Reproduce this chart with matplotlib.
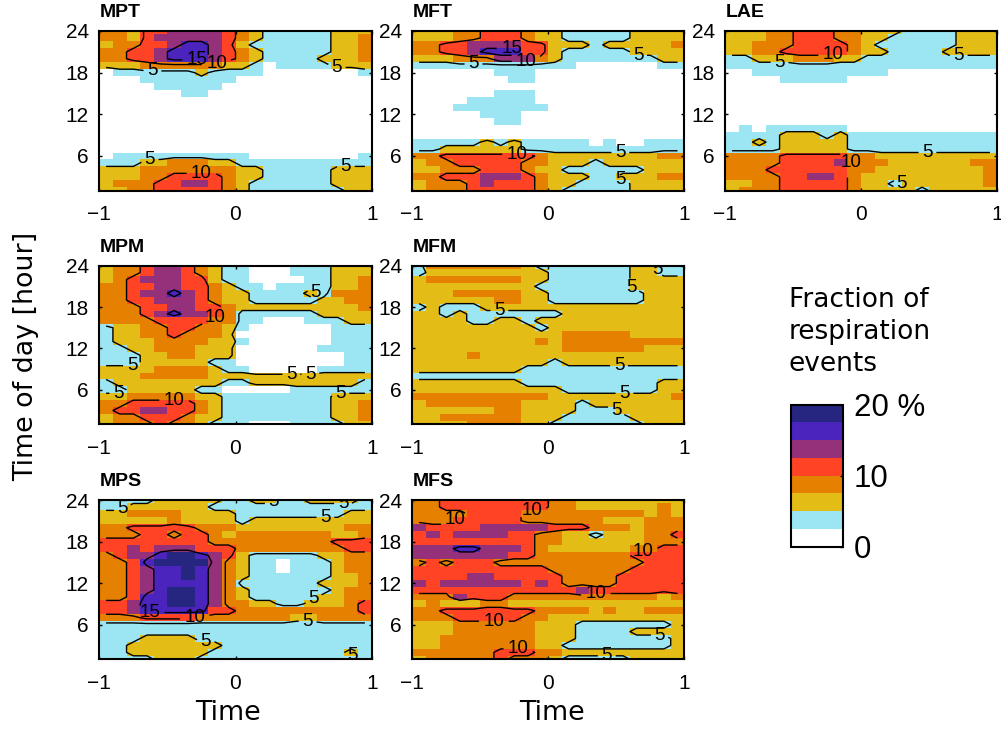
#!/usr/bin/env python3
# -*- coding: utf-8 -*-
import numpy as np
import matplotlib
matplotlib.use("Agg")
import matplotlib.pyplot as plt
from matplotlib.colors import ListedColormap, BoundaryNorm
from matplotlib.cm import ScalarMappable

# each string is one hour (24 at the top, 1 at the bottom), each digit one 0.1 wide time bin
# digit = colour class, 0 = 0-2.5 %, 1 = 2.5-5 % ... 7 = 17.5-20 %
EMPTY = "00000000000000000000"

mpt = ["33244555543211111222", "33245555543211111223", "23344566542111111223", "33445666543211111223",
       "33445666543211112223", "22233333322101111222", "01111112111100000001", "00011111110000000000",
       "00001111100000000000", "00000011000000000000", EMPTY, EMPTY, EMPTY, EMPTY, EMPTY, EMPTY, EMPTY, EMPTY,
       "01111111111000000001", "11122333221111111111", "22233333332211111222", "22233444432211111222",
       "23334455432111111222", "22334444432111111122"]

mft = ["22233444322111112222", "22233444322111112222", "33445555442221222223", "33445666442111112222",
       "22233355532111111122", "11111111111100000011", "00000011100000000000", "00000001100000000000",
       EMPTY, "00000011100000000000", "00001111100000000000", "00011111110000000000",
       "00000111000000000000", "00000011000000000000", EMPTY, EMPTY,
       "11111212111110100111", "11222222111111111111", "33444444432222222233", "23344444332221222222",
       "22333444322111111222", "33444555432221122233", "23334544432211112222", "23334444432111112222"]

lae = ["22233444332221111222", "22233444332211111222", "22333444432111111222", "22334444432211112222",
       "11222333221111111111", "11111111111111111111", "00111111111100000000", "00001111100000000000",
       EMPTY, EMPTY, EMPTY, EMPTY, EMPTY, EMPTY,
       "01011111100000000000", "11112221211111111111", "11212222211111111111", "11112222211111111111",
       "33334444433222222222", "33334444533322222233", "33344444433222222223", "33334455432222222223",
       "22334444432212222223", "23334444432222122222"]

mpm = ["23345543211000111222", "23345543211000111222", "23455544211000011223", "33445544321101111223",
       "33455654322111121333", "33445554322111112233", "33344554432222222223", "33345655431111112222",
       "33334444331100011122", "12233443321000000111", "12233433320000000111", "12223333221000000111",
       "11223332220000001111", "11122332220000000011", "11122222110000000011", "22223333211000001111",
       "22233333222222222222", "12222222211222222221", "11222221100000111111", "22333332211111111222",
       "33444443211111111223", "34455443211111111223", "23344432211111111223", "23334332111000111122"]

mfm = ["13333333211111112211", "12222222221111112211", "23333333221111112222", "22222222211111112222",
       "22233333221111111222", "22222233221111111222", "12111222222222222222", "22121111111222222222",
       "22221122122222222222", "22222222212222222222", "22222222222333332222", "22222222232333333333",
       "22222222222333333222", "22223222222222222222", "22222222221222222222", "22222222111111111111",
       "11111111111111111111", "22222222111111111122", "22222222222111111122", "33333333332222222223",
       "23333333222212222222", "22222233222211122222", "22333333222111112222", "22223333221111111222"]

mps = ["11112222211221122221", "11222222111111111111", "22333322221111111122", "22222322221222222222",
       "33444443332222222233", "33344344323333333223", "44444444333333333444", "44545554443333333344",
       "34556776542111112233", "33467777532110111233", "33456676532110111233", "33456676532111111223",
       "33456666531111112223", "33456776532111111233", "33466776532111112233", "44566776533221122234",
       "44566666443333333334", "33344443333333223333", "11111111111111111111", "11111111111111111111",
       "11122221111111111111", "11222222211111111111", "11222222111111111121", "11112221111111111111"]

mfs = ["33444444443322222222", "33444444443322222232", "33334444333333333232", "33344444333333222333",
       "54444555554443332333", "45455554433221222334", "44444444433222222333", "55566555432222223344",
       "55555554433333334444", "34344433333333333444", "44444444443333334444", "44445544444333344444",
       "54555555454333344444", "44444444444454444444", "33354443333333333323", "23222332222222222222",
       "33444444433332322333", "33344444332222222222", "22233333322211111112", "22233333322211112222",
       "22333333322211111112", "22333333322111111112", "33333344433222222222", "23333343332111112222"]

names = ["MPT", "MFT", "LAE", "MPM", "MFM", "MPS", "MFS"]
panels = [mpt, mft, lae, mpm, mfm, mps, mfs]
bounds = [0, 2.5, 5, 7.5, 10, 12.5, 15, 17.5, 20]
class_mid = [1.25, 3.75, 6.25, 8.75, 11.25, 13.75, 16.25, 18.75]
contour_levels = [5, 10, 15]
colors = ["#ffffff", "#9be6f2", "#e3bc16", "#e68000", "#ff4324", "#95317a", "#4b24be", "#262680"]

# axes boxes in pixels: left, top, right, bottom
boxes = [(99.3, 31, 371.7, 190.7), (412.3, 31, 684.3, 190.7), (725.3, 31, 996.7, 190.7),
         (99.3, 265.7, 371.7, 424.3), (412.3, 265.7, 684.3, 424.3),
         (99.3, 500, 371.7, 659.3), (412.3, 500, 684.3, 659.3)]

# where the contour numbers sit
label_spots = [
    [(-.61, 18.3), (-.28, 20.3), (-.14, 19.4), (.75, 19.3), (-.63, 5.5), (-.25, 3.6), (.81, 4.3)],
    [(-.55, 19.3), (-.27, 21.0), (-.16, 20.0), (.66, 20.9), (-.23, 5.9), (.53, 6.6), (.54, 2.9)],
    [(-.21, 21.4), (-.6, 19.5), (.72, 20.8), (-.04, 4.8), (.49, 6.6), (.3, 1.9)],
    [(.6, 20.6), (-.16, 17.1), (-.76, 9.6), (-.86, 6), (-.45, 4.2), (.41, 8.1), (.55, 7.5), (.77, 5.3)],
    [(-.36, 17.5), (.6, 20.5), (.82, 23.5), (.52, 9.5), (.56, 5.7), (.49, 2.6)],
    [(-.84, 23.2), (.28, 23.7), (.79, 23.5), (.66, 21.6), (-.3, 7.1), (-.63, 8.9), (.53, 6.3), (.56, 10.3),
     (-.22, 3.6), (.85, 2)],
    [(-.7, 21.7), (-.12, 22.2), (.7, 16.7), (.35, 10.5), (-.4, 6.8), (-.22, 2.3), (.82, 4.5), (.43, 1.6)],
]

W, H = 1001, 729
TICK_FONT = "Liberation Sans"
plt.rcParams["font.family"] = "DejaVu Sans"
plt.rcParams["axes.linewidth"] = 1.5

cmap = ListedColormap(colors)
norm = BoundaryNorm(bounds, cmap.N)

fig = plt.figure(figsize=(W / 100, H / 100), dpi=100)


def px_axes(box):
    left, top, right, bottom = box
    return fig.add_axes([left / W, 1 - bottom / H, (right - left) / W, (bottom - top) / H])


x_edges = np.linspace(-1, 1, 21)
y_edges = np.arange(0.5, 25.5)
x_mid = (x_edges[:-1] + x_edges[1:]) / 2
y_mid = np.arange(1, 25)

for name, rows, box, spots in zip(names, panels, boxes, label_spots):
    ax = px_axes(box)
    # rows are typed top down, so flip them for the y axis
    values = np.array([[class_mid[int(c)] for c in row] for row in rows[::-1]])
    ax.pcolormesh(x_edges, y_edges, values, cmap=cmap, norm=norm)
    cs = ax.contour(x_mid, y_mid, values, levels=contour_levels, colors="k", linewidths=1.0)
    labels = ax.clabel(cs, fmt="%d", fontsize=13.5, inline=True, inline_spacing=3, manual=spots)
    for t in labels:
        t.set_rotation(0)
        t.set_family(TICK_FONT)
    ax.set_xlim(-1, 1)
    ax.set_ylim(1, 24)
    ax.set_xticks([-1, 0, 1])
    ax.set_yticks([6, 12, 18, 24])
    ax.tick_params(direction="in", top=True, right=True, length=2.5, width=1, labelsize=15)
    ax.tick_params(axis="x", pad=10.5)
    ax.tick_params(axis="y", pad=7.5)
    for t in ax.get_xticklabels() + ax.get_yticklabels():
        t.set_family(TICK_FONT)
    ax.text(0, 1.06, name, transform=ax.transAxes, fontsize=14, fontweight="bold",
            family=TICK_FONT, ha="left", va="bottom")

fig.text(26 / W, 1 - 356 / H, "Time of day [hour]", rotation=90, fontsize=19.4, ha="center", va="center")
fig.text(228 / W, 1 - 713 / H, "Time", fontsize=19.4, ha="center", va="center")
fig.text(552 / W, 1 - 713 / H, "Time", fontsize=19.4, ha="center", va="center")

fig.text(789 / W, 1 - 332 / H, "Fraction of\nrespiration\nevents", fontsize=19, ha="left", va="center",
         linespacing=1.31)

cax = px_axes((791, 404.7, 842.7, 546.7))
cb = fig.colorbar(ScalarMappable(norm=norm, cmap=cmap), cax=cax, ticks=[0, 10, 20], spacing="uniform")
cb.ax.minorticks_off()
cb.ax.set_yticklabels(["0", "10", "20 %"], family=TICK_FONT, fontsize=22.5)
cb.ax.tick_params(direction="in", length=2, width=1, pad=8)
cb.outline.set_linewidth(1.5)

fig.savefig("out.png", dpi=100)
